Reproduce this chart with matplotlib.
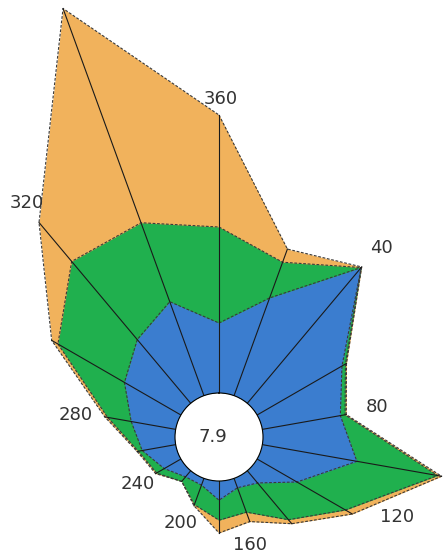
import matplotlib
matplotlib.use('Agg')
import matplotlib.pyplot as plt
import numpy as np

# Wind rose: direction bins (deg clockwise from north), calm % in the hole
directions = np.arange(0, 360, 20)
calm = 7.9
# frequency per speed class, stacked outwards (blue -> green -> orange)
blue_vals = np.array([1.75, 2.60, 4.43, 2.45, 1.98, 2.40, 1.15, 0.40, 0.25,
                      0.48, 0.18, 0.20, 0.48, 0.85, 1.13, 1.63, 2.08, 2.50])
green_vals = np.array([2.40, 0.95, 0.00, 0.10, 0.12, 2.05, 1.40, 1.20, 0.65,
                       0.50, 0.52, 0.15, 0.22, 0.10, 0.60, 1.92, 2.55, 2.10])
orange_vals = np.array([2.80, 0.35, 0.02, 0.03, 0.03, 0.10, 0.20, 0.13, 0.25,
                        0.32, 0.03, 0.00, 0.03, 0.03, 0.07, 0.18, 1.27, 5.70])

dir_labels = ['360', '40', '80', '120', '160', '200', '240', '280', '320']
# where the direction labels sit (deg, radius in data units)
label_theta = [0.3, 40.6, 79.2, 114.2, 164, 204.4, 239.9, 278.7, 320.6]
label_r = [7.35, 5.13, 2.93, 3.78, 1.70, 1.25, 1.25, 2.53, 6.48]

colors = ['#3b7dcf', '#20b04e', '#f1b25c']
edge = '#3a3a3a'

# layout: hole radius 44 px, 40 px per unit, centre at (219, 437) px
W, H = 444, 556
R_ax = 470
hole = 1.1
fig = plt.figure(figsize=(W / 100, H / 100), dpi=100)
ax = fig.add_axes([(219 - R_ax) / W, (H - 437 - R_ax) / H, 2 * R_ax / W, 2 * R_ax / H],
                  projection='polar')
ax.set_theta_zero_location('N')
ax.set_theta_direction(-1)
ax.set_rorigin(-hole)
ax.set_ylim(0, (R_ax - 44) / 40)
ax.grid(False)
ax.set_xticks([])
ax.set_yticks([])
for sp in ax.spines.values():
    sp.set_visible(False)
ax.patch.set_visible(False)

theta = np.deg2rad(np.append(directions, directions[0]))
stack = np.cumsum([blue_vals, green_vals, orange_vals], axis=0)

# fills, outermost first
for level in (2, 1, 0):
    r = np.append(stack[level], stack[level][0])
    ax.fill_between(theta, 0, r, color=colors[level], lw=0)
for level in (2, 1, 0):
    r = np.append(stack[level], stack[level][0])
    ax.plot(theta, r, color=edge, lw=0.8, ls=(0, (2.5, 1.5)))

# spokes
for d, rr in zip(directions, stack[2]):
    ax.plot([np.deg2rad(d)] * 2, [0, rr], color='#1a1a1a', lw=0.8)

for t, r, s in zip(label_theta, label_r, dir_labels):
    ax.text(np.deg2rad(t), r, s, ha='center', va='center', fontsize=13, color='#333333')

ax.text(0.5 - 6 / (2 * R_ax), 0.5, f'{calm}', transform=ax.transAxes,
        ha='center', va='center', fontsize=13, color='#333333')

fig.savefig('out.png', dpi=100)
